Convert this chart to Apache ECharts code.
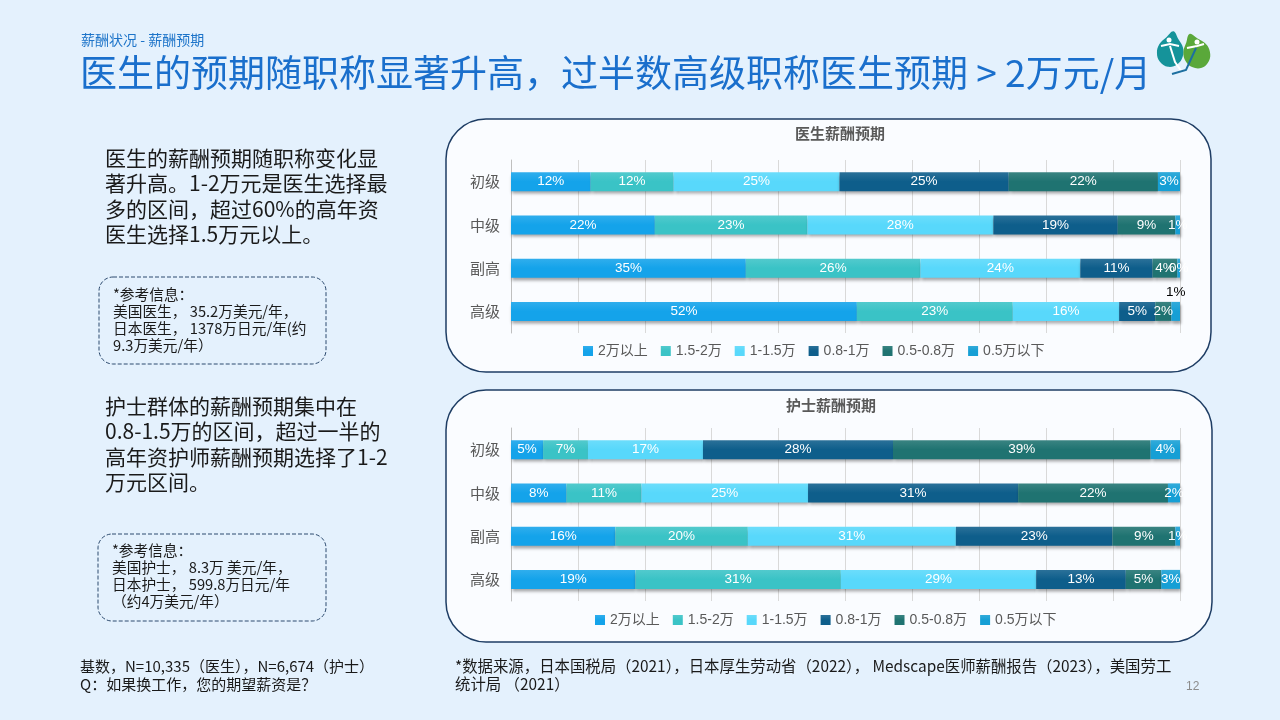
<!DOCTYPE html>
<html>
<head>
<meta charset="utf-8">
<script src="https://cdn.jsdelivr.net/npm/echarts@6/dist/echarts.min.js"></script>
<style>
html,body{margin:0;padding:0;background:#e4f1fd;}
#c{width:1280px;height:720px;}
</style>
</head>
<body>
<div id="c"></div>
<script>
// ---------- data ----------
const categories = ['初级', '中级', '副高', '高级'];
const seriesNames = ['2万以上', '1.5-2万', '1-1.5万', '0.8-1万', '0.5-0.8万', '0.5万以下'];

// 医生薪酬预期 (%)
const docOver2 = [11.9, 21.5, 35.1, 51.7];
const doc15to2 = [12.4, 22.8, 26.1, 23.3];
const doc1to15 = [24.8, 27.8, 23.9, 15.9];
const doc08to1 = [25.3, 18.6, 10.8, 5.4];
const doc05to08 = [22.3, 8.6, 3.7, 2.4];
const docUnder05 = [3.3, 0.7, 0.4, 1.3];

// 护士薪酬预期 (%)
const nurOver2 = [4.8, 8.3, 15.6, 18.6];
const nur15to2 = [6.7, 11.2, 19.8, 30.7];
const nur1to15 = [17.2, 24.9, 31.1, 29.2];
const nur08to1 = [28.4, 31.4, 23.4, 13.4];
const nur05to08 = [38.5, 22.4, 9.4, 5.3];
const nurUnder05 = [4.4, 1.8, 0.7, 2.8];

const axisTicks = [0, 10, 20, 30, 40, 50, 60, 70, 80, 90, 100];

// ---------- styles ----------
const colors = ['#14a3ea', '#3ac3c6', '#58d8fb', '#0e5e8b', '#1f7371', '#169fd5'];
const FONT = '"Noto Sans CJK SC", sans-serif';
const NUMFONT = '"Liberation Sans", "Noto Sans CJK SC", sans-serif';

const docData = [docOver2, doc15to2, doc1to15, doc08to1, doc05to08, docUnder05];
const nurData = [nurOver2, nur15to2, nur1to15, nur08to1, nur05to08, nurUnder05];

function lighten(hex, amt) {
  const n = parseInt(hex.slice(1), 16);
  let r = (n >> 16) & 255, g = (n >> 8) & 255, b = n & 255;
  r = Math.round(r + (255 - r) * amt); g = Math.round(g + (255 - g) * amt); b = Math.round(b + (255 - b) * amt);
  return 'rgb(' + r + ',' + g + ',' + b + ')';
}

function buildSeries(dataSets, axisIdx, outsideLabel) {
  return dataSets.map((arr, si) => ({
    name: seriesNames[si],
    type: 'bar',
    stack: 'total' + axisIdx,
    xAxisIndex: axisIdx,
    yAxisIndex: axisIdx,
    barWidth: 19,
    itemStyle: {
      color: {
        type: 'linear', x: 0, y: 0, x2: 0, y2: 1,
        colorStops: [
          { offset: 0, color: lighten(colors[si], 0.12) },
          { offset: 0.5, color: colors[si] },
          { offset: 1, color: colors[si] }
        ]
      },
      shadowColor: 'rgba(0,0,0,0.35)',
      shadowBlur: 3,
      shadowOffsetY: 3,
      shadowOffsetX: 1
    },
    label: {
      show: true,
      position: 'inside',
      color: '#ffffff',
      fontSize: 13.5,
      fontFamily: NUMFONT,
      formatter: p => Math.round(p.value) + '%'
    },
    data: arr.map((v, ri) => {
      if (outsideLabel && outsideLabel.series === si && outsideLabel.row === ri) {
        return { value: v, label: { position: 'top', color: '#000', distance: 3 } };
      }
      return v;
    })
  }));
}

function xAxis(gi) {
  return {
    gridIndex: gi, type: 'value', min: axisTicks[0], max: axisTicks[axisTicks.length - 1],
    interval: axisTicks[1] - axisTicks[0],
    axisLabel: { show: false }, axisLine: { show: false }, axisTick: { show: false },
    splitLine: { show: true, lineStyle: { color: '#d9d9d9', width: 1 } }
  };
}
function yAxis(gi) {
  return {
    gridIndex: gi, type: 'category', data: categories, inverse: true,
    axisLine: { show: true, lineStyle: { color: '#bfbfbf' } },
    axisTick: { show: false },
    axisLabel: { color: '#595959', fontSize: 15, fontFamily: FONT, margin: 11 }
  };
}
function legend(top, left) {
  return {
    data: seriesNames, top: top, left: left, icon: 'rect', itemWidth: 10, itemHeight: 10, itemGap: 13,
    selectedMode: false,
    textStyle: { color: '#595959', fontSize: 14, fontFamily: NUMFONT }
  };
}

const T = (x, y, text, style) => ({ type: 'text', x: x, y: y, silent: true, style: Object.assign({ text: text, fontFamily: FONT }, style) });

function leafPts(cx, cy, s, rot) {
  const base = [[0, -16], [6, -9], [12, -1], [13, 8], [9, 16], [0, 20], [-9, 16], [-13, 8], [-12, -1], [-6, -9]];
  const c = Math.cos(rot), sn = Math.sin(rot);
  return base.map(p => [cx + s * (p[0] * c - p[1] * sn), cy + s * (p[0] * sn + p[1] * c)]);
}

const chart = echarts.init(document.getElementById('c'), null, { renderer: 'canvas' });

chart.setOption({
  backgroundColor: '#e4f1fd',
  animation: false,
  graphic: [
    // chart panels
    { type: 'rect', z: -10, shape: { x: 446, y: 119, width: 765, height: 253, r: 40 },
      style: { fill: '#fafcff', stroke: '#1e3d64', lineWidth: 1.5 } },
    { type: 'rect', z: -10, shape: { x: 446, y: 390, width: 766, height: 252, r: 40 },
      style: { fill: '#fafcff', stroke: '#1e3d64', lineWidth: 1.5 } },
    // info boxes
    { type: 'rect', z: -10, shape: { x: 99, y: 277, width: 227, height: 87, r: 14 },
      style: { fill: 'transparent', stroke: '#2c4a6e', lineWidth: 1, lineDash: [4, 2] } },
    { type: 'rect', z: -10, shape: { x: 98, y: 534, width: 228, height: 87, r: 14 },
      style: { fill: 'transparent', stroke: '#2c4a6e', lineWidth: 1, lineDash: [4, 2] } },
    // header
    T(81, 33, '薪酬状况 - 薪酬预期', { fill: '#1d74c9', fontSize: 14 }),
    T(80, 54, '医生的预期随职称显著升高，过半数高级职称医生预期 > 2万元/月', { fill: '#1a6fcc', fontSize: 37 }),
    // logo
    { type: 'polygon', shape: { points: leafPts(1171, 47, 1, 0.15), smooth: 0.4 }, style: { fill: '#15939a' } },
    { type: 'polygon', shape: { points: leafPts(1195, 49, 1, -0.35), smooth: 0.4 }, style: { fill: '#5aa83a' } },
    { type: 'circle', shape: { cx: 1169, cy: 40, r: 2.5 }, style: { fill: '#fff' } },
    { type: 'circle', shape: { cx: 1197, cy: 42, r: 2.5 }, style: { fill: '#fff' } },
    { type: 'polyline', shape: { points: [[1161, 46], [1170, 44], [1179, 46]] }, style: { stroke: '#fff', lineWidth: 2, fill: null } },
    { type: 'polyline', shape: { points: [[1187, 48], [1197, 46], [1204, 44]] }, style: { stroke: '#fff', lineWidth: 2, fill: null } },
    { type: 'polyline', shape: { points: [[1170, 46], [1175, 62], [1182, 72]] }, style: { stroke: '#fff', lineWidth: 2, fill: null } },
    { type: 'polyline', shape: { points: [[1172, 74], [1186, 70], [1196, 48]] }, style: { stroke: '#1d6fa0', lineWidth: 2, fill: null } },
    // paragraphs
    T(105, 145, '医生的薪酬预期随职称变化显\n著升高。1-2万元是医生选择最\n多的区间，超过60%的高年资\n医生选择1.5万元以上。', { fill: '#1a1a1a', fontSize: 21, lineHeight: 25.5 }),
    T(113, 286, '*参考信息：\n美国医生， 35.2万美元/年，\n日本医生， 1378万日元/年(约\n9.3万美元/年）', { fill: '#1a1a1a', fontSize: 14.7, lineHeight: 17 }),
    T(105, 393, '护士群体的薪酬预期集中在\n0.8-1.5万的区间，超过一半的\n高年资护师薪酬预期选择了1-2\n万元区间。', { fill: '#1a1a1a', fontSize: 21, lineHeight: 25.5 }),
    T(112, 542, '*参考信息：\n美国护士， 8.3万 美元/年，\n日本护士， 599.8万日元/年\n（约4万美元/年）', { fill: '#1a1a1a', fontSize: 14.7, lineHeight: 17 }),
    // footers
    T(80, 657, '基数，N=10,335（医生），N=6,674（护士）\nQ：如果换工作，您的期望薪资是？', { fill: '#1a1a1a', fontSize: 15, lineHeight: 18 }),
    T(455, 657, '*数据来源，日本国税局（2021），日本厚生劳动省（2022）， Medscape医师薪酬报告（2023），美国劳工\n统计局 （2021）', { fill: '#1a1a1a', fontSize: 15.4, lineHeight: 18 }),
    T(1186, 681, '12', { fill: '#8c8c8c', fontSize: 12, fontFamily: NUMFONT })
  ],
  title: [
    { text: '医生薪酬预期', left: 835, top: 121, textAlign: 'center',
      textStyle: { fontSize: 15, fontWeight: 'bold', color: '#595959', fontFamily: FONT } },
    { text: '护士薪酬预期', left: 826, top: 393, textAlign: 'center',
      textStyle: { fontSize: 15, fontWeight: 'bold', color: '#595959', fontFamily: FONT } }
  ],
  legend: [legend(339, 578), legend(608, 590)],
  grid: [
    { left: 511, width: 669, top: 160, height: 173 },
    { left: 511, width: 669, top: 428, height: 173 }
  ],
  xAxis: [xAxis(0), xAxis(1)],
  yAxis: [yAxis(0), yAxis(1)],
  series: buildSeries(docData, 0, { series: 5, row: 3 }).concat(buildSeries(nurData, 1, null))
});
</script>
</body>
</html>
